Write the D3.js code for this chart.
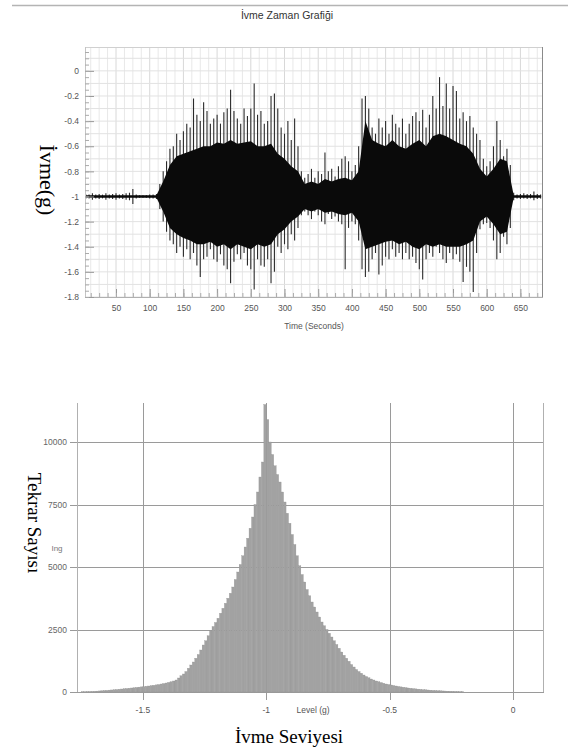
<!DOCTYPE html>
<html>
<head>
<meta charset="utf-8">
<script src="https://cdn.jsdelivr.net/npm/d3@7/dist/d3.min.js"></script>
<style>
  body { margin: 0; background: #fff; }
  .tick text { font-family: "Liberation Sans", Arial, sans-serif; }
</style>
</head>
<body>
<svg id="chart" width="568" height="751"></svg>
<script>
// Acceleration record: peak envelope read every 5 s (0 ... 680 s)
const peakStep = 5;
const peakHigh = [
  -0.985, -0.98, -0.985, -0.975, -0.985, -0.98, -0.985, -0.975, -0.985, -0.98,
  -0.975, -0.985, -0.98, -0.975, -0.97, -0.94, -0.985, -0.99, -0.99, -0.99,
  -0.985, -0.985, -0.98, -0.9, -0.8, -0.72, -0.62, -0.6, -0.5, -0.55,
  -0.48, -0.42, -0.45, -0.22, -0.35, -0.4, -0.25, -0.32, -0.42, -0.38,
  -0.35, -0.42, -0.33, -0.3, -0.15, -0.32, -0.38, -0.42, -0.3, -0.36,
  -0.3, -0.1, -0.35, -0.32, -0.42, -0.4, -0.2, -0.18, -0.3, -0.45,
  -0.5, -0.4, -0.55, -0.38, -0.6, -0.8, -0.85, -0.82, -0.78, -0.85,
  -0.8, -0.82, -0.65, -0.8, -0.78, -0.84, -0.76, -0.7, -0.68, -0.72,
  -0.8, -0.75, -0.6, -0.22, -0.2, -0.3, -0.45, -0.5, -0.38, -0.45,
  -0.4, -0.5, -0.35, -0.42, -0.45, -0.38, -0.5, -0.42, -0.36, -0.33,
  -0.4, -0.31, -0.45, -0.35, -0.2, -0.3, -0.05, -0.28, -0.1, -0.3,
  -0.12, -0.16, -0.38, -0.33, -0.4, -0.36, -0.45, -0.5, -0.55, -0.7,
  -0.76, -0.72, -0.6, -0.4, -0.55, -0.68, -0.62, -0.75, -0.97, -0.985,
  -0.98, -0.975, -0.98, -0.98, -0.96, -0.98, -0.985
];
const peakLow = [
  -1.015, -1.02, -1.015, -1.025, -1.015, -1.02, -1.015, -1.025, -1.015, -1.02,
  -1.025, -1.015, -1.02, -1.025, -1.03, -1.06, -1.015, -1.01, -1.01, -1.01,
  -1.015, -1.015, -1.02, -1.1, -1.2, -1.28, -1.35, -1.38, -1.45, -1.4,
  -1.48, -1.42, -1.5, -1.45, -1.55, -1.64, -1.5, -1.48, -1.42, -1.5,
  -1.52, -1.46, -1.55, -1.58, -1.69, -1.52, -1.46, -1.5, -1.45, -1.55,
  -1.58, -1.74, -1.5, -1.55, -1.56, -1.5, -1.69, -1.6, -1.4, -1.45,
  -1.38, -1.42, -1.3, -1.35, -1.25, -1.15, -1.12, -1.15, -1.18, -1.12,
  -1.15, -1.2, -1.22, -1.14, -1.18, -1.16, -1.2, -1.22, -1.58, -1.25,
  -1.2, -1.22, -1.35, -1.58, -1.64, -1.6, -1.5, -1.45, -1.62, -1.55,
  -1.48, -1.5, -1.42, -1.48, -1.45, -1.5, -1.45, -1.5, -1.48, -1.53,
  -1.58, -1.66, -1.5, -1.45, -1.48, -1.4, -1.45, -1.5, -1.53, -1.45,
  -1.5, -1.46, -1.52, -1.68, -1.56, -1.6, -1.76, -1.45, -1.26, -1.22,
  -1.21, -1.25, -1.35, -1.5, -1.45, -1.32, -1.38, -1.25, -1.03, -1.015,
  -1.02, -1.015, -1.02, -1.015, -1.03, -1.02, -1.015
];
// dense (dark) band of the record, read every 10 s
const coreStep = 10;
const coreHigh = [
  -0.99, -0.99, -0.99, -0.99, -0.99, -0.99, -0.99, -0.99, -0.99, -0.99,
  -0.99, -0.99, -0.88, -0.75, -0.68, -0.66, -0.64, -0.62, -0.6, -0.6,
  -0.57, -0.58, -0.55, -0.58, -0.57, -0.56, -0.6, -0.6, -0.58, -0.66,
  -0.7, -0.76, -0.8, -0.9, -0.88, -0.9, -0.86, -0.88, -0.86, -0.85,
  -0.87, -0.8, -0.4, -0.55, -0.58, -0.6, -0.55, -0.6, -0.62, -0.58,
  -0.55, -0.6, -0.52, -0.5, -0.52, -0.55, -0.58, -0.6, -0.66, -0.78,
  -0.84, -0.78, -0.7, -0.72, -0.99, -0.99, -0.99, -0.99, -0.99
];
const coreLow = [
  -1.01, -1.01, -1.01, -1.01, -1.01, -1.01, -1.01, -1.01, -1.01, -1.01,
  -1.01, -1.01, -1.12, -1.25, -1.3, -1.33, -1.35, -1.38, -1.38, -1.36,
  -1.4, -1.38, -1.42, -1.38, -1.4, -1.42, -1.38, -1.4, -1.38, -1.3,
  -1.26, -1.2, -1.16, -1.1, -1.12, -1.1, -1.13, -1.12, -1.14, -1.15,
  -1.13, -1.2, -1.42, -1.4, -1.38, -1.36, -1.35, -1.38, -1.36, -1.4,
  -1.42, -1.38, -1.4, -1.38, -1.4, -1.4, -1.4, -1.38, -1.35, -1.2,
  -1.16, -1.22, -1.3, -1.28, -1.01, -1.01, -1.01, -1.01, -1.01
];
const timeTicks = [50, 100, 150, 200, 250, 300, 350, 400, 450, 500, 550, 600, 650];
const accelTicks = [0, -0.2, -0.4, -0.6, -0.8, -1, -1.2, -1.4, -1.6, -1.8];

// Histogram of levels: bins of 0.01 g starting at -1.75 g
const levelStart = -1.75;
const levelWidth = 0.01;
const levelCounts = [
  8, 10, 15, 18, 22, 28, 35, 42, 50, 58,
  65, 75, 82, 90, 100, 110, 120, 130, 140, 150,
  160, 170, 182, 195, 205, 215, 228, 240, 255, 270,
  285, 300, 320, 340, 360, 385, 410, 440, 480, 560,
  650, 720, 820, 950, 1080, 1200, 1350, 1500, 1680, 1880,
  2050, 2250, 2450, 2620, 2780, 2950, 3150, 3350, 3550, 3750,
  3950, 4200, 4500, 4800, 5100, 5450, 5800, 6150, 6550, 7000,
  7500, 8000, 8600, 9200, 11500, 10900, 10000, 9500, 9050, 8700,
  8400, 8000, 7600, 7150, 6750, 6300, 5900, 5450, 5050, 4700,
  4400, 4100, 3850, 3600, 3400, 3200, 3000, 2800, 2650, 2500,
  2350, 2200, 2050, 1900, 1750, 1600, 1470, 1350, 1230, 1100,
  1000, 900, 820, 750, 680, 620, 570, 520, 480, 440,
  410, 380, 350, 320, 300, 280, 260, 240, 220, 205,
  190, 175, 160, 148, 136, 125, 115, 105, 96, 88,
  80, 72, 65, 58, 52, 47, 42, 38, 34, 30,
  26, 22, 18, 14, 10
];
const levelTicks = [-1.5, -1, -0.5, 0];
const countTicks = [0, 2500, 5000, 7500, 10000];

const sans = '"Liberation Sans", Arial, sans-serif';
const serif = '"Liberation Serif", "Times New Roman", serif';

const svg = d3.select("#chart");

// ---------- Top chart: acceleration vs time ----------
const box1 = { l: 85, r: 543, t: 47, b: 297 };
const x1 = d3.scaleLinear().domain([4, 683.5]).range([box1.l, box1.r]);
const y1 = d3.scaleLinear().domain([-1.8, 0.19]).range([box1.b, box1.t]);

svg.append("line")
  .attr("x1", 12).attr("x2", 568).attr("y1", 5.5).attr("y2", 5.5)
  .attr("stroke", "#b4b4b4").attr("stroke-width", 1.5);

svg.append("text")
  .attr("x", 287).attr("y", 19)
  .attr("text-anchor", "middle")
  .style("font-family", sans).style("font-size", "10.5px").attr("fill", "#333")
  .text("İvme Zaman Grafiği");

const g1 = svg.append("g");

// light grid
g1.selectAll(".vgrid")
  .data(d3.range(12.5, 683, 12.5))
  .enter().append("line")
  .attr("x1", d => x1(d)).attr("x2", d => x1(d))
  .attr("y1", box1.t).attr("y2", box1.b)
  .attr("stroke", d => d % 50 === 0 ? "#d8d8d8" : "#e8e8e8")
  .attr("stroke-width", 1);
g1.selectAll(".hgrid")
  .data(y1.ticks(20))
  .enter().append("line")
  .attr("x1", box1.l).attr("x2", box1.r)
  .attr("y1", d => y1(d)).attr("y2", d => y1(d))
  .attr("stroke", "#e2e2e2").attr("stroke-width", 1);

// signal
svg.append("clipPath").attr("id", "clip-top")
  .append("rect")
  .attr("x", box1.l).attr("y", box1.t)
  .attr("width", box1.r - box1.l).attr("height", box1.b - box1.t);

const wave = g1.append("g").attr("clip-path", "url(#clip-top)");

wave.selectAll(".peak")
  .data(peakHigh.map((hi, i) => ({ t: i * peakStep, hi: hi, lo: peakLow[i] })))
  .enter().append("line")
  .attr("x1", d => x1(d.t)).attr("x2", d => x1(d.t))
  .attr("y1", d => y1(d.hi)).attr("y2", d => y1(d.lo))
  .attr("stroke", "#2a2a2a").attr("stroke-width", 1.1);

const core = coreHigh.map((hi, i) => ({ t: i * coreStep, hi: hi, lo: coreLow[i] }));
wave.append("path")
  .datum(core)
  .attr("d", d3.area()
    .x(d => x1(d.t))
    .y0(d => y1(d.lo))
    .y1(d => y1(d.hi)))
  .attr("fill", "#0a0a0a");

// frame
g1.append("line").attr("x1", box1.l).attr("x2", box1.r).attr("y1", box1.t + 0.5).attr("y2", box1.t + 0.5)
  .attr("stroke", "#d0d0d0");
g1.append("line").attr("x1", box1.l + 0.5).attr("x2", box1.l + 0.5).attr("y1", box1.t).attr("y2", box1.b)
  .attr("stroke", "#c4c4c4");
g1.append("line").attr("x1", box1.r - 0.5).attr("x2", box1.r - 0.5).attr("y1", box1.t).attr("y2", box1.b)
  .attr("stroke", "#8a8a8a");
g1.append("line").attr("x1", box1.l).attr("x2", box1.r).attr("y1", box1.b + 0.5).attr("y2", box1.b + 0.5)
  .attr("stroke", "#b0b0b0");

// axes (ticks pointing inward)
const yAxis1 = g1.append("g")
  .attr("transform", `translate(${box1.l},0)`)
  .call(d3.axisLeft(y1).tickValues(accelTicks).tickSize(-9).tickPadding(6)
    .tickFormat(d => d === 0 ? "0" : String(+d.toFixed(1))));
yAxis1.select(".domain").remove();
yAxis1.selectAll("line").attr("stroke", "#999");
yAxis1.selectAll("text").attr("fill", "#555").style("font-size", "8.5px");

const yMinor1 = g1.append("g")
  .attr("transform", `translate(${box1.l},0)`)
  .call(d3.axisLeft(y1).tickValues(y1.ticks(40)).tickSize(-4).tickFormat(""));
yMinor1.select(".domain").remove();
yMinor1.selectAll("line").attr("stroke", "#aaa");

const xAxis1 = g1.append("g")
  .attr("transform", `translate(0,${box1.b})`)
  .call(d3.axisBottom(x1).tickValues(timeTicks).tickSize(-8).tickPadding(8));
xAxis1.select(".domain").remove();
xAxis1.selectAll("line").attr("stroke", "#999");
xAxis1.selectAll("text").attr("fill", "#555").style("font-size", "8.5px");

const xMinor1 = g1.append("g")
  .attr("transform", `translate(0,${box1.b})`)
  .call(d3.axisBottom(x1).tickValues(d3.range(12.5, 683, 12.5)).tickSize(-4).tickFormat(""));
xMinor1.select(".domain").remove();
xMinor1.selectAll("line").attr("stroke", "#aaa");

svg.append("text")
  .attr("x", (box1.l + box1.r) / 2).attr("y", 329)
  .attr("text-anchor", "middle")
  .style("font-family", sans).style("font-size", "8.5px").attr("fill", "#555")
  .text("Time (Seconds)");

svg.append("text")
  .attr("transform", "translate(40,180) rotate(90)")
  .attr("text-anchor", "middle")
  .style("font-family", serif).style("font-size", "22px").attr("fill", "#000")
  .text("İvme(g)");

// ---------- Bottom chart: level histogram ----------
const box2 = { l: 77, r: 544, t: 403, b: 692 };
const x2 = d3.scaleLinear().domain([-1.767, 0.125]).range([box2.l, box2.r]);
const y2 = d3.scaleLinear().domain([0, 11560]).range([box2.b, box2.t]);

const g2 = svg.append("g");

// grid lines (gray, extending past the plot like ticks)
g2.selectAll(".hline")
  .data(countTicks)
  .enter().append("line")
  .attr("x1", box2.l - 7).attr("x2", box2.r)
  .attr("y1", d => Math.round(y2(d)) + 0.5).attr("y2", d => Math.round(y2(d)) + 0.5)
  .attr("stroke", "#9a9a9a");
g2.selectAll(".vline")
  .data(levelTicks)
  .enter().append("line")
  .attr("x1", d => Math.round(x2(d)) + 0.5).attr("x2", d => Math.round(x2(d)) + 0.5)
  .attr("y1", box2.t).attr("y2", box2.b + 8)
  .attr("stroke", "#9a9a9a");

g2.append("line").attr("x1", box2.l + 0.5).attr("x2", box2.l + 0.5).attr("y1", box2.t).attr("y2", box2.b)
  .attr("stroke", "#b0b0b0");
g2.append("line").attr("x1", box2.r - 0.5).attr("x2", box2.r - 0.5).attr("y1", box2.t).attr("y2", box2.b)
  .attr("stroke", "#b0b0b0");

// bars
const barW = x2(levelWidth) - x2(0);
g2.selectAll(".bar")
  .data(levelCounts)
  .enter().append("rect")
  .attr("x", (d, i) => x2(levelStart + i * levelWidth))
  .attr("y", d => y2(d))
  .attr("width", barW)
  .attr("height", d => y2(0) - y2(d))
  .attr("fill", "#a2a2a2")
  .attr("stroke", "#939393")
  .attr("stroke-width", 0.3);

// tick labels
g2.selectAll(".ylab")
  .data(countTicks)
  .enter().append("text")
  .attr("x", box2.l - 10).attr("y", d => y2(d) + 3)
  .attr("text-anchor", "end")
  .style("font-family", sans).style("font-size", "8.5px").attr("fill", "#666")
  .text(d => d);
g2.selectAll(".xlab")
  .data(levelTicks)
  .enter().append("text")
  .attr("x", d => x2(d)).attr("y", 713)
  .attr("text-anchor", "middle")
  .style("font-family", sans).style("font-size", "8.5px").attr("fill", "#555")
  .text(d => d);

svg.append("text")
  .attr("x", 313).attr("y", 713)
  .attr("text-anchor", "middle")
  .style("font-family", sans).style("font-size", "8.5px").attr("fill", "#555")
  .text("Level (g)");

svg.append("text")
  .attr("x", 57).attr("y", 551)
  .attr("text-anchor", "middle")
  .style("font-family", sans).style("font-size", "8px").attr("fill", "#777")
  .text("Ing");

svg.append("text")
  .attr("x", 289).attr("y", 743)
  .attr("text-anchor", "middle")
  .style("font-family", serif).style("font-size", "19px").attr("fill", "#000")
  .text("İvme Seviyesi");

svg.append("text")
  .attr("transform", "translate(28,523) rotate(90)")
  .attr("text-anchor", "middle")
  .style("font-family", serif).style("font-size", "19px").attr("fill", "#000")
  .text("Tekrar Sayısı");
</script>
</body>
</html>
